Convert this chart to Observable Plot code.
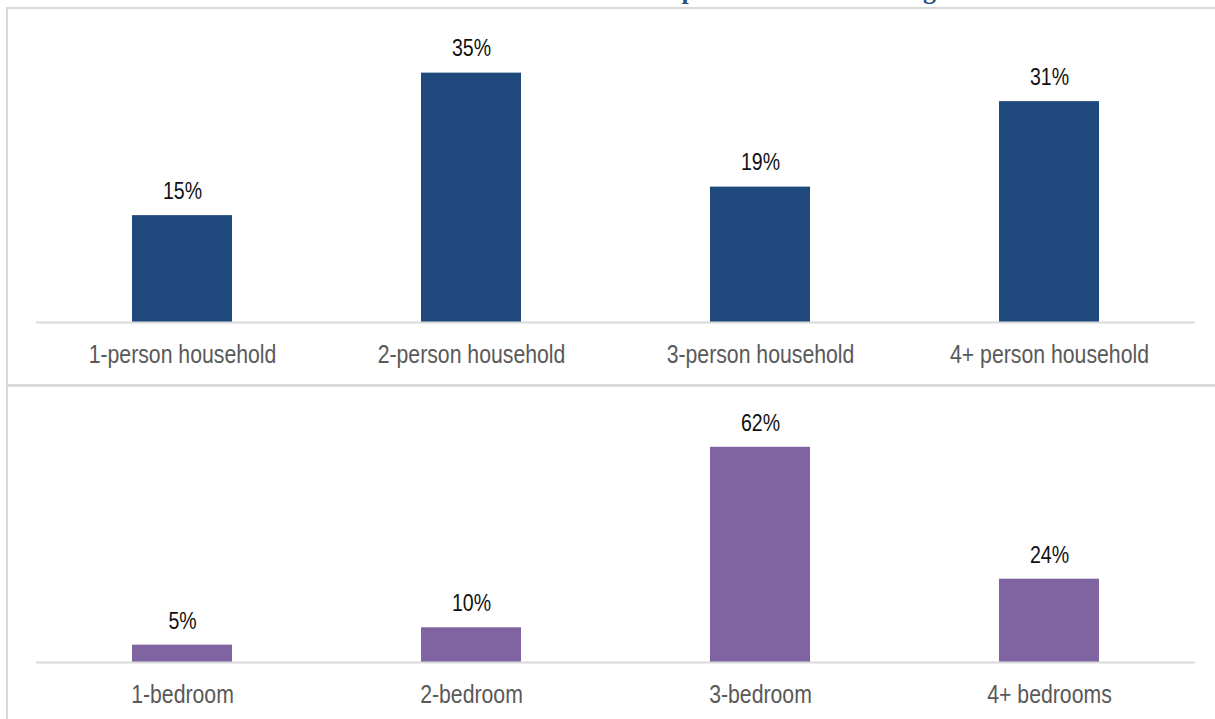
<!DOCTYPE html>
<html>
<head>
<meta charset="utf-8">
<script src="https://cdn.jsdelivr.net/npm/d3@7"></script>
<script src="https://cdn.jsdelivr.net/npm/@observablehq/plot@0.6"></script>
<style>
  body { margin:0; background:#fff; }
  #page { position:relative; width:1215px; height:719px; overflow:hidden; background:#fff; }
  #title { position:absolute; top:-24px; left:0; width:1215px; text-align:left; padding-left:459px; box-sizing:border-box;
           font-family:"Liberation Serif","DejaVu Serif",serif; font-weight:bold; font-size:26px; color:#2c5282; white-space:nowrap; }
  #frame { position:absolute; left:6px; top:7px; width:1215px; height:720px; border-left:2px solid #d9d9d9; border-top:2px solid #d9d9d9; }
  #divider { position:absolute; left:8px; top:384px; width:1207px; height:3px; background:#dcdcdc; }
  #top { position:absolute; left:0; top:9px; }
  #bottom { position:absolute; left:0; top:388px; }
</style>
</head>
<body>
<div id="page">
  <div id="title">Household Size compared to Total Housing Stock</div>
  <div id="frame"></div>
  <div id="divider"></div>
  <div id="top"></div>
  <div id="bottom"></div>
</div>
<script>
const householdCategories = ["1-person household", "2-person household", "3-person household", "4+ person household"];
const householdValues = [15, 35, 19, 31];
const bedroomCategories = ["1-bedroom", "2-bedroom", "3-bedroom", "4+ bedrooms"];
const bedroomValues = [5, 10, 62, 24];

const font = '"Liberation Sans",Arial,sans-serif';

function panel(cats, vals, color, yMax, height, marginTop, marginBottom) {
  const data = cats.map((c, i) => ({cat: c, v: vals[i]}));
  return Plot.plot({
    width: 1215,
    height,
    marginLeft: 36,
    marginRight: 20,
    marginTop,
    marginBottom,
    style: {fontFamily: font, background: "transparent", overflow: "visible"},
    x: {domain: cats, paddingInner: 0.655, paddingOuter: 0.3275, align: 0.5, label: null},
    y: {domain: [0, yMax], axis: null},
    marks: [
      Plot.barY(data, {x: "cat", y: "v", fill: color}),
      Plot.ruleY([0], {stroke: "#d9d9d9", strokeWidth: 2}),
      Plot.text(data, {x: "cat", y: "v", text: d => d.v + "%", dy: -24, fontSize: 23, fill: "#111"}),
      Plot.axisX({tickSize: 0, tickPadding: 23, fontSize: 25, fill: "#595959", label: null})
    ]
  });
}

function condense(svg, s) {
  d3.select(svg).selectAll("text").each(function() {
    const b = this.getBBox();
    const cx = b.x + b.width / 2;
    const existing = this.getAttribute("transform") || "";
    this.setAttribute("transform", `${existing} translate(${cx},0) scale(${s},1) translate(${-cx},0)`);
  });
}

const topSvg = panel(householdCategories, householdValues, "#1f497d", 40, 374, 28, 61);
document.getElementById("top").appendChild(topSvg);
condense(topSvg, 0.85);
const botSvg = panel(bedroomCategories, bedroomValues, "#8064a2", 70, 331, 31, 57);
document.getElementById("bottom").appendChild(botSvg);
condense(botSvg, 0.85);
</script>
</body>
</html>
